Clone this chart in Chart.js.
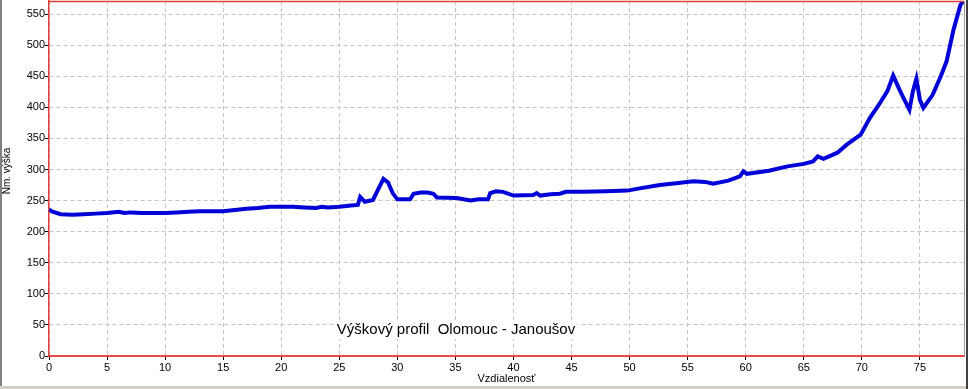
<!DOCTYPE html>
<html>
<head>
<meta charset="utf-8">
<script src="https://cdn.jsdelivr.net/npm/chart.js@4"></script>
<style>
  html, body { margin: 0; padding: 0; background: #fff; }
  canvas { display: block; }
</style>
</head>
<body>
<canvas id="profil" width="968" height="389"></canvas>
<script>
// vzdialenost (km) a nadmorska vyska (m), odcitane z grafu
const vzdialenost = [
  0, 0.3, 1, 2, 3, 4, 5, 6, 6.5, 7, 8, 9, 10, 11, 12, 13, 14, 15, 16, 17,
  18, 19, 20, 21, 22, 23, 23.5, 24, 25, 26, 26.6, 26.8, 27.2, 27.9, 28.4, 28.8, 29.2, 29.6, 30.0, 31.1,
  31.4, 32.0, 32.6, 33.1, 33.4, 35.1, 36.3, 37.0, 37.8, 38.0, 38.5, 39.1, 40.0, 41.7, 42.0, 42.3, 43.2, 44.0, 44.5, 46,
  48, 49.8, 51, 52.6, 54, 55.5, 56.5, 57.2, 58.5, 59.5, 59.8, 60.1, 62, 63.6, 65, 65.8, 66.2, 66.7, 67.9, 68.7,
  69.9, 70.7, 71.5, 72.2, 72.7, 73.3, 73.8, 74.1, 74.4, 74.7, 75.0, 75.3, 76.1, 76.8, 77.3, 77.9, 78.5, 78.8
];
const vyska = [
  236, 232, 228, 227, 228, 229, 230, 232, 230, 231, 230, 230, 230, 231, 232, 233, 233, 233, 235, 237,
  238, 240, 240, 240, 239, 238, 240, 239, 240, 242, 243, 256, 248, 251, 270, 285, 279, 262, 252, 252,
  261, 263, 263, 261, 255, 254, 250, 252, 252, 262, 265, 264, 258, 259, 262, 258, 260, 261, 264, 264,
  265, 266, 270, 275, 278, 281, 280, 277, 282, 289, 297, 293, 298, 305, 309, 313, 321, 317, 327, 340,
  356, 383, 405, 426, 451, 426, 407, 396, 426, 446, 412, 399, 420, 450, 474, 525, 565, 572
];
const xKroky = [0, 5, 10, 15, 20, 25, 30, 35, 40, 45, 50, 55, 60, 65, 70, 75];
const yKroky = [0, 50, 100, 150, 200, 250, 300, 350, 400, 450, 500, 550];
const nadpis = "Výškový profil  Olomouc - Janoušov";
const osX = "Vzdialenosť";
const osY = "Nm. výška";

const body = vzdialenost.map((x, i) => ({ x: x, y: vyska[i] }));
const pismo = "'Liberation Sans', Arial, sans-serif";

// ramik okna, horny a pravy okraj grafu, popisky
const doplnky = {
  id: "doplnky",
  beforeDraw(chart) {
    const c = chart.ctx;
    c.save();
    c.fillStyle = "#fff";
    c.fillRect(0, 0, chart.width, chart.height);
    c.restore();
  },
  beforeDatasetsDraw(chart) {
    const c = chart.ctx;
    c.save();
    // nadpis vnutri grafu
    c.font = "15px " + pismo;
    const w = c.measureText(nadpis).width;
    const cx = 456, cy = 330;
    c.fillStyle = "#fff";
    c.fillRect(cx - w / 2 - 2, cy - 9, w + 4, 18);
    c.fillStyle = "#000";
    c.textAlign = "center";
    c.textBaseline = "middle";
    c.fillText(nadpis, cx, cy);
    c.restore();
  },
  afterDraw(chart) {
    const c = chart.ctx, a = chart.chartArea;
    c.save();
    // horny okraj cerveny, pravy sivy
    c.strokeStyle = "#e03c3c";
    c.lineWidth = 1.5;
    c.beginPath();
    c.moveTo(a.left, a.top + 0.5);
    c.lineTo(a.right, a.top + 0.5);
    c.stroke();
    c.strokeStyle = "#9a9a9a";
    c.lineWidth = 1;
    c.beginPath();
    c.moveTo(a.right + 0.5, a.top);
    c.lineTo(a.right + 0.5, a.bottom);
    c.stroke();
    // ramik okna
    c.fillStyle = "#808080";
    c.fillRect(0, 0, 2, chart.height);
    c.fillStyle = "#d4d0c8";
    c.fillRect(0, chart.height - 3, chart.width, 3);
    c.fillStyle = "#404040";
    c.fillRect(chart.width - 2, 0, 2, chart.height);
    // popis osi y
    c.fillStyle = "#000";
    c.font = "10px " + pismo;
    c.translate(7, 171);
    c.rotate(-Math.PI / 2);
    c.textAlign = "center";
    c.textBaseline = "middle";
    c.fillText(osY, 0, 0);
    c.restore();
  }
};

new Chart(document.getElementById("profil"), {
  type: "line",
  data: {
    datasets: [{
      data: body,
      borderColor: "#0000d8",
      borderWidth: 4,
      pointRadius: 0,
      tension: 0,
      fill: false
    }]
  },
  options: {
    responsive: false,
    animation: false,
    layout: { padding: { left: 0, top: 1, right: 4, bottom: 0 } },
    plugins: { legend: { display: false }, tooltip: { enabled: false } },
    scales: {
      x: {
        type: "linear",
        min: 0,
        max: 78.8,
        afterBuildTicks: s => { s.ticks = xKroky.map(v => ({ value: v })); },
        afterFit: s => { s.height = 33; s.paddingLeft = 0; s.paddingRight = 0; },
        ticks: { color: "#000", font: { family: pismo, size: 11 }, padding: 1, maxRotation: 0, autoSkip: false },
        grid: { color: "#c4c4c4", tickColor: "#000", tickLength: 4, tickBorderDash: [] },
        border: { display: true, color: "#e84848", width: 2, dash: [4, 3] },
        title: { display: true, text: osX, color: "#000", font: { family: pismo, size: 11 }, padding: { top: 0, bottom: 3 } }
      },
      y: {
        min: 0,
        max: 571,
        afterBuildTicks: s => { s.ticks = yKroky.map(v => ({ value: v })); },
        afterFit: s => { s.width = 49; s.paddingTop = 0; s.paddingBottom = 0; },
        ticks: { color: "#000", font: { family: pismo, size: 11 }, padding: 0, autoSkip: false },
        grid: { color: "#c4c4c4", tickColor: "#000", tickLength: 4, tickBorderDash: [] },
        border: { display: true, color: "#e03c3c", width: 1.5, dash: [4, 3] }
      }
    }
  },
  plugins: [doplnky]
});
</script>
</body>
</html>
